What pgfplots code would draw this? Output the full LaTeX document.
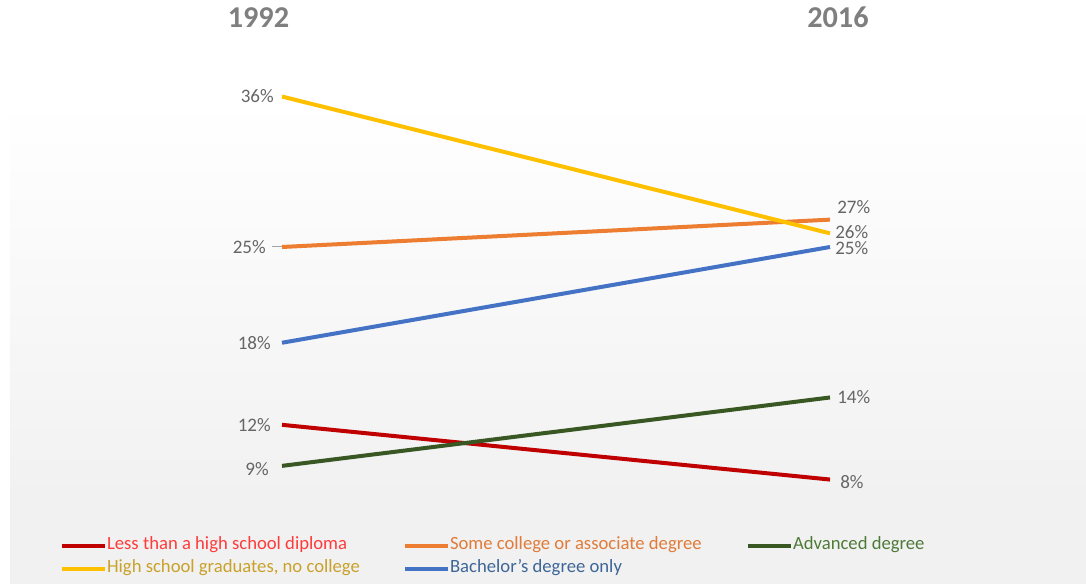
\documentclass[border=0pt]{standalone}
\usepackage{pgfplots}
\pgfplotsset{compat=1.18}
\usepackage{fontspec}
\setmainfont{Carlito}
\definecolor{cyellow}{HTML}{FFC000}
\definecolor{corange}{HTML}{ED7D31}
\definecolor{cblue}{HTML}{4472C4}
\definecolor{cred}{HTML}{C00000}
\definecolor{cgreen}{HTML}{385723}
\definecolor{tred}{HTML}{FF3B3B}
\definecolor{tyellow}{HTML}{C9A12B}
\definecolor{torange}{HTML}{E07B39}
\definecolor{tblue}{HTML}{3D6697}
\definecolor{tgreen}{HTML}{4E7A38}
\definecolor{lblgray}{HTML}{666666}
\definecolor{titlegray}{HTML}{7F7F7F}
\definecolor{bgg}{HTML}{F1F1F1}
\begin{document}
\begin{tikzpicture}
\begin{scope}[x=0.75pt,y=0.75pt]
\fill[white] (0,0) rectangle (1086,584);
\shade[top color=white,bottom color=bgg] (10,84) rectangle (1086,484);
\fill[bgg] (10,0) rectangle (1086,84);
\end{scope}
\begin{axis}[
  at={(0,0)}, anchor=south west,
  scale only axis, width=814.5pt, height=438pt,
  hide axis, clip=false,
  xmin=-0.51460, xmax=1.46715, ymin=0.3655, ymax=43.056,
  legend columns=3,
  legend cell align=left,
  legend image code/.code={\draw[#1] (0pt,0pt) -- (32.25pt,0pt);},
  legend style={at={(rel axis cs:0.0553,0.0850)}, anchor=north west,
    draw=none, fill=none, inner sep=0pt, outer sep=0pt,
    row sep=0pt, column sep=0pt,
    font=\fontsize{14}{16}\selectfont,
    nodes={inner sep=0pt, text height=11.5pt, text depth=5.75pt}},
]
\addplot[cred, line width=3pt] coordinates {(0,12) (1,8)};
\addlegendentry{\makebox[222pt][l]{\textcolor{tred}{Less than a high school diploma}}}
\addplot[corange, line width=3pt] coordinates {(0,25) (1,27)};
\addlegendentry{\makebox[222pt][l]{\textcolor{torange}{Some college or associate degree}}}
\addplot[cgreen, line width=3pt] coordinates {(0,9) (1,14)};
\addlegendentry{\textcolor{tgreen}{Advanced degree}}
\addplot[cyellow, line width=3pt] coordinates {(0,36) (1,26)};
\addlegendentry{\makebox[222pt][l]{\textcolor{tyellow}{High school graduates, no college}}}
\addplot[cblue, line width=3pt] coordinates {(0,18) (1,25)};
\addlegendentry{\makebox[222pt][l]{\textcolor{tblue}{Bachelor's degree only}}}

\draw[gray!70, line width=0.75pt] (axis cs:0,25) -- ([xshift=-7.5pt]axis cs:0,25);

\begin{scope}[every node/.style={font=\fontsize{14.3}{16}\selectfont, text=lblgray, inner sep=0pt, text height=9.4pt, text depth=0pt}]
\node[anchor=east, xshift=-6pt] at (axis cs:0,36) {36\%};
\node[anchor=east, xshift=-12pt] at (axis cs:0,25) {25\%};
\node[anchor=east, xshift=-8.25pt] at (axis cs:0,18) {18\%};
\node[anchor=east, xshift=-8.25pt] at (axis cs:0,12) {12\%};
\node[anchor=east, xshift=-9.75pt, yshift=-2.25pt] at (axis cs:0,9) {9\%};
\node[anchor=west, xshift=5.25pt, yshift=9pt] at (axis cs:1,27) {27\%};
\node[anchor=west, xshift=3.75pt, yshift=0.75pt] at (axis cs:1,26) {26\%};
\node[anchor=west, xshift=3.75pt, yshift=-0.75pt] at (axis cs:1,25) {25\%};
\node[anchor=west, xshift=5.25pt] at (axis cs:1,14) {14\%};
\node[anchor=west, xshift=7.5pt, yshift=-2pt] at (axis cs:1,8) {8\%};
\end{scope}

\node[font=\bfseries\fontsize{22.7}{25}\selectfont, text=titlegray] at (rel axis cs:0.2380,0.9700) {1992};
\node[font=\bfseries\fontsize{22.7}{25}\selectfont, text=titlegray] at (rel axis cs:0.7716,0.9700) {2016};
\end{axis}
\pgfresetboundingbox
\useasboundingbox (0,0) rectangle (814.5pt,438pt);
\end{tikzpicture}
\end{document}
